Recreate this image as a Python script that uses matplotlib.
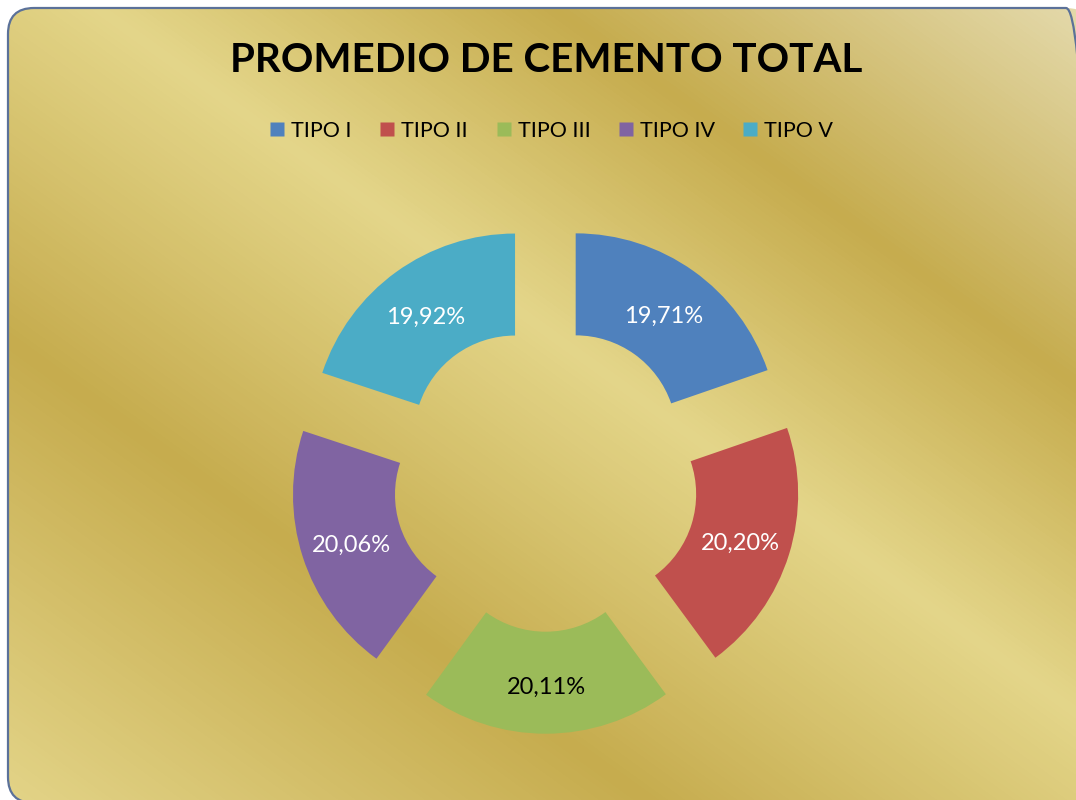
import numpy as np
import matplotlib
matplotlib.use("Agg")
import matplotlib.pyplot as plt
from matplotlib.patches import FancyBboxPatch
from matplotlib.lines import Line2D
from matplotlib.colors import LinearSegmentedColormap

# data
categories = ["TIPO I", "TIPO II", "TIPO III", "TIPO IV", "TIPO V"]
values = [19.71, 20.20, 20.11, 20.06, 19.92]
colors = ["#4F81BD", "#C0504D", "#9BBB59", "#8064A2", "#4BACC6"]
label_colors = ["white", "white", "black", "white", "white"]
title = "PROMEDIO DE CEMENTO TOTAL"

plt.rcParams["font.family"] = ["Lato", "DejaVu Sans"]

W, H = 1076, 800
fig = plt.figure(figsize=(W / 100, H / 100), dpi=100)
fig.patch.set_facecolor("white")
ax = fig.add_axes([0, 0, 1, 1])
ax.set_xlim(0, W)
ax.set_ylim(0, H)
ax.set_aspect("equal")
ax.axis("off")

# gold gradient background, stripes running diagonally
yy, xx = np.mgrid[0:H, 0:W]
s = yy - 0.72 * xx
gold = LinearSegmentedColormap.from_list(
    "gold",
    [(0.0, "#E6DDB2"), (0.255, "#C6AC4E"), (0.46, "#E4D68A"),
     (0.71, "#C6AC4E"), (1.0, "#E3D488")])
t = (s + 800) / 1600
img = ax.imshow(t, cmap=gold, vmin=0, vmax=1, extent=(0, W, 0, H),
                origin="upper", zorder=0, interpolation="bilinear")
frame = FancyBboxPatch((8, -3), W + 8, H - 8 + 3,
                       boxstyle="round,pad=0,rounding_size=26",
                       facecolor="none", edgecolor="#5B7199", lw=1.6, zorder=3)
ax.add_patch(frame)
img.set_clip_path(frame)

# doughnut
wedges, texts, autotexts = ax.pie(
    values, colors=colors, startangle=90, counterclock=False,
    center=(545.5, H - 478.7), radius=203, explode=[52] * len(values),
    wedgeprops=dict(width=102, edgecolor="none"),
    autopct=lambda p: f"{p:.2f}%".replace(".", ","), pctdistance=0.75,
    textprops=dict(fontsize=17))
for txt, c in zip(autotexts, label_colors):
    txt.set_color(c)
    px, py = txt.get_position()
    txt.set_position((px, py - 4))
ax.set_xlim(0, W)
ax.set_ylim(0, H)

ax.text(546, H - 61, title, ha="center", va="center",
        fontsize=29.1, fontweight="bold", color="black")

handles = [Line2D([], [], marker="s", ls="none", markersize=10,
                  markerfacecolor=c, markeredgecolor="none") for c in colors]
ax.legend(handles, categories, ncol=5, loc="center",
          bbox_to_anchor=(551 / W, 1 - 131 / H), frameon=False,
          fontsize=15.5, handletextpad=0.25, columnspacing=1.25,
          handlelength=0.8)

fig.savefig("out.png", dpi=100, facecolor="white")
